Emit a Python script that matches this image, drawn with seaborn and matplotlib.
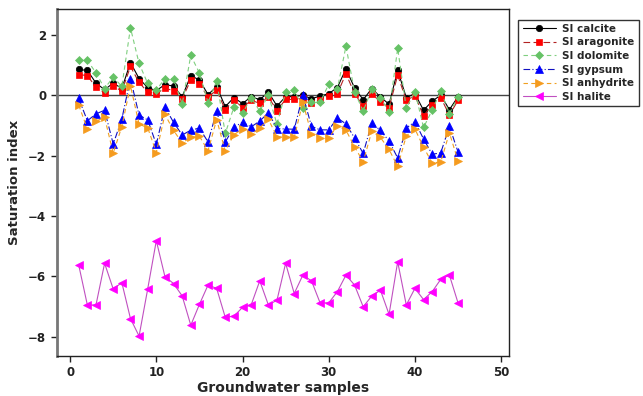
import numpy as np
import pandas as pd
import matplotlib
matplotlib.use("Agg")
import matplotlib.pyplot as plt
import seaborn as sns

samples = list(range(1, 46))

si_calcite = [0.85, 0.82, 0.40, 0.18, 0.40, 0.22, 1.08, 0.55, 0.25, 0.15,
              0.35, 0.30, -0.05, 0.65, 0.50, 0.02, 0.28, -0.38, -0.08, -0.28,
              -0.05, -0.15, 0.10, -0.36, -0.05, -0.05, 0.00, -0.12, -0.03, 0.05,
              0.25, 0.87, 0.24, -0.15, 0.22, -0.06, -0.30, 0.82, -0.08, 0.05,
              -0.50, -0.20, 0.00, -0.48, -0.05]
si_aragonite = [0.68, 0.65, 0.26, 0.08, 0.31, 0.13, 0.95, 0.42, 0.10, 0.05,
                0.23, 0.15, -0.12, 0.50, 0.38, -0.07, 0.17, -0.49, -0.15, -0.41,
                -0.17, -0.27, -0.06, -0.51, -0.14, -0.14, -0.10, -0.25, -0.16, -0.02,
                0.05, 0.71, 0.05, -0.36, 0.04, -0.22, -0.41, 0.66, -0.17, -0.02,
                -0.68, -0.33, -0.08, -0.66, -0.17]
si_dolomite = [1.17, 1.15, 0.74, 0.22, 0.60, 0.29, 2.23, 1.05, 0.39, 0.17,
               0.55, 0.55, -0.29, 1.32, 0.73, -0.25, 0.47, -1.27, -0.40, -0.60,
               -0.08, -0.53, 0.00, -0.96, 0.10, 0.17, -0.44, -0.22, -0.24, 0.36,
               0.20, 1.62, 0.11, -0.53, 0.20, -0.08, -0.57, 1.55, -0.43, 0.12,
               -1.07, -0.50, 0.14, -0.61, -0.06]
si_gypsum = [-0.11, -0.85, -0.62, -0.50, -1.62, -0.79, 0.55, -0.66, -0.82, -1.63,
             -0.40, -0.90, -1.32, -1.16, -1.09, -1.55, -0.53, -1.55, -1.06, -0.90,
             -1.05, -0.86, -0.58, -1.11, -1.12, -1.13, 0.00, -1.03, -1.15, -1.15,
             -0.76, -0.95, -1.42, -1.93, -0.92, -1.17, -1.52, -2.08, -1.09, -0.88,
             -1.45, -1.96, -1.91, -1.03, -1.88]
si_anhydrite = [-0.33, -1.12, -0.86, -0.74, -1.92, -1.04, 0.31, -0.96, -1.08, -1.90,
                -0.64, -1.17, -1.58, -1.40, -1.36, -1.84, -0.81, -1.85, -1.31, -1.12,
                -1.30, -1.09, -0.80, -1.38, -1.39, -1.40, -0.23, -1.30, -1.42, -1.42,
                -1.01, -1.16, -1.71, -2.21, -1.19, -1.40, -1.80, -2.36, -1.35, -1.12,
                -1.72, -2.25, -2.21, -1.25, -2.17]
si_halite = [-5.63, -6.95, -6.95, -5.57, -6.42, -6.21, -7.40, -7.98, -6.42, -4.82,
             -6.01, -6.24, -6.65, -7.62, -6.93, -6.29, -6.40, -7.36, -7.32, -7.03,
             -6.95, -6.15, -6.95, -6.79, -5.57, -6.57, -5.96, -6.15, -6.88, -6.88,
             -6.51, -5.96, -6.29, -7.01, -6.65, -6.46, -7.26, -5.52, -6.95, -6.40,
             -6.77, -6.51, -6.10, -5.96, -6.88]

labels = ["SI calcite", "SI aragonite", "SI dolomite", "SI gypsum", "SI anhydrite", "SI halite"]
series = [si_calcite, si_aragonite, si_dolomite, si_gypsum, si_anhydrite, si_halite]

styles = {
    "SI calcite":   dict(color="black", ls="-", marker="o", mfc="black", mec="black", ms=4.6),
    "SI aragonite": dict(color="#b22222", ls=(0, (6, 3)), marker="s", mfc="#ff0000", mec="#ff0000", ms=4.6),
    "SI dolomite":  dict(color="#7fcf7f", ls=(0, (4, 3)), marker="D", mfc="#66c266", mec="#66c266", ms=4.3),
    "SI gypsum":    dict(color="#1010c0", ls=(0, (6, 2, 1, 2)), marker="^", mfc="#0000ff", mec="#0000ff", ms=5.2),
    "SI anhydrite": dict(color="#f0a020", ls=(0, (4, 3)), marker=">", mfc="#f59b1e", mec="#f59b1e", ms=5.2),
    "SI halite":    dict(color="#c050c0", ls="-", marker="<", mfc="#ff00ff", mec="#ff00ff", ms=5.2),
}

df = pd.DataFrame({"Sample": samples * len(labels),
                   "SI": sum(series, []),
                   "Mineral": sum([[l] * len(samples) for l in labels], [])})

sns.set_style("white")
plt.rcParams["font.family"] = ["DejaVu Sans"]

fig = plt.figure(figsize=(6.43, 3.96), dpi=100)
ax = fig.add_axes([0.088, 0.101, 0.703, 0.876])

ax.axhline(0, color="#444444", lw=1.0, zorder=1)

for lab in labels:
    st = styles[lab]
    sub = df[df["Mineral"] == lab]
    sns.lineplot(data=sub, x="Sample", y="SI", ax=ax, color=st["color"],
                 linestyle=st["ls"], lw=0.8, marker=st["marker"],
                 markersize=st["ms"], markerfacecolor=st["mfc"],
                 markeredgecolor=st["mec"], markeredgewidth=0.5,
                 label=lab, zorder=3)

ax.set_xlim(-1.57, 50.87)
ax.set_ylim(-8.64, 2.85)
ax.set_xticks([0, 10, 20, 30, 40, 50])
ax.set_yticks([-8, -6, -4, -2, 0, 2])
ax.tick_params(axis="both", direction="out", length=4, width=1, labelsize=8.5,
               bottom=True, left=True, colors="#222222")
for t in ax.get_xticklabels() + ax.get_yticklabels():
    t.set_fontweight("bold")
ax.set_xlabel("Groundwater samples", fontsize=10, fontweight="bold", labelpad=1)
ax.set_ylabel("Saturation index", fontsize=9.5, fontweight="bold", labelpad=5)

for side in ["top", "right", "bottom"]:
    ax.spines[side].set_color("#222222")
    ax.spines[side].set_linewidth(1.0)
ax.spines["left"].set_color("#777777")
ax.spines["left"].set_linewidth(2.0)

leg = ax.legend(loc="upper left", bbox_to_anchor=(1.01, 0.985), frameon=True,
                fancybox=False, edgecolor="black", fontsize=7.5, handlelength=3.2,
                borderpad=0.4, labelspacing=0.35, handletextpad=0.6)
leg.get_frame().set_linewidth(1.0)
for t in leg.get_texts():
    t.set_fontweight("bold")

fig.savefig("out.png", dpi=100)
